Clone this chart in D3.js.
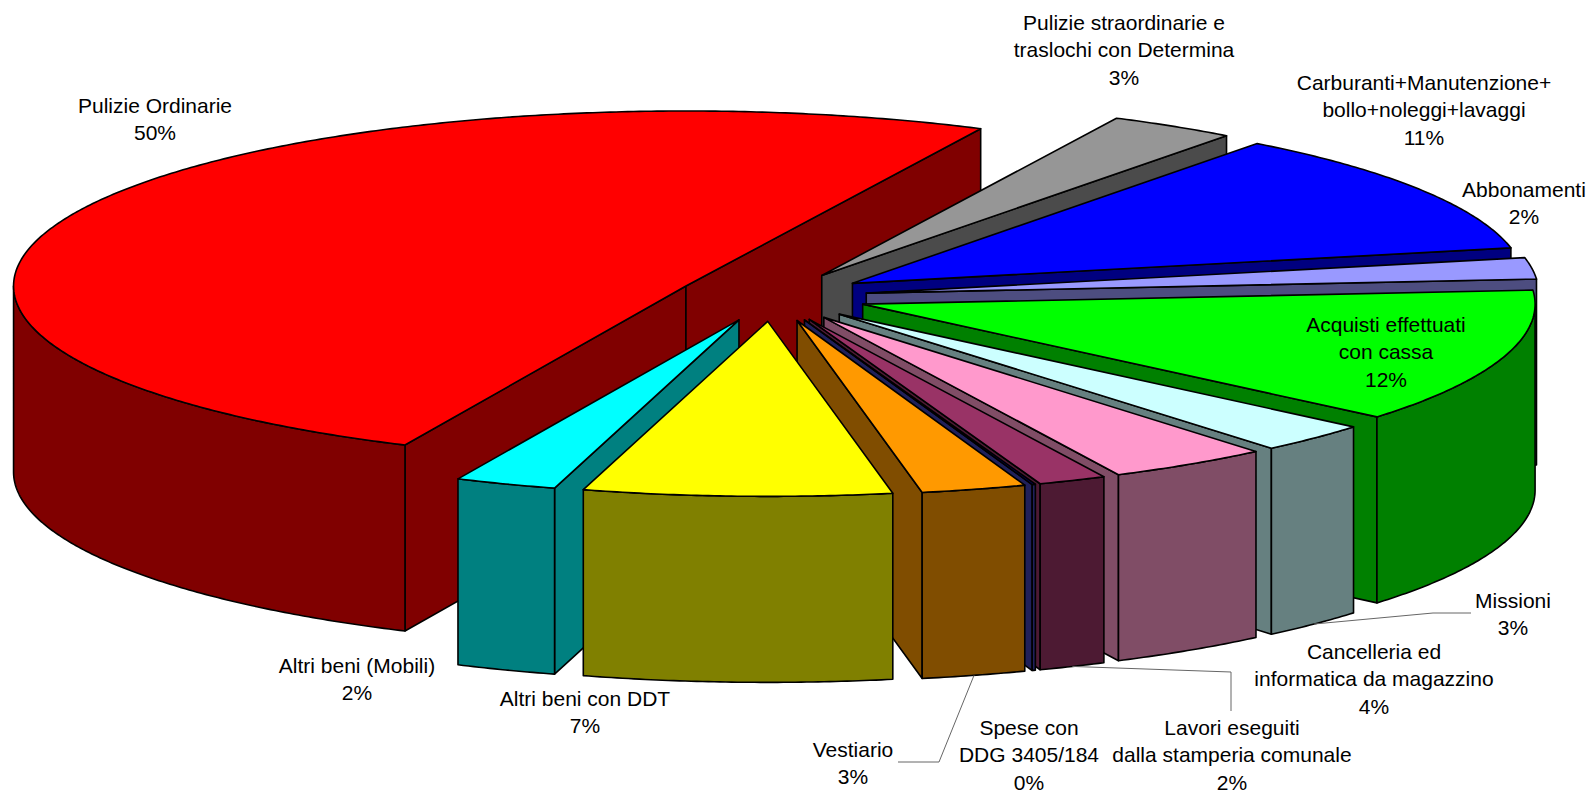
<!DOCTYPE html>
<html>
<head>
<meta charset="utf-8">
<script src="https://cdn.jsdelivr.net/npm/d3@7"></script>
<style>
  body { margin: 0; background: #fff; }
  .lbl { font-family: "Liberation Sans", Arial, sans-serif; font-size: 21px; fill: #000; }
  .face { stroke: #000; stroke-width: 1.6; stroke-linejoin: round; }
  .leader { fill: none; stroke: #666; stroke-width: 1; }
</style>
</head>
<body>
<svg width="1591" height="794"></svg>
<script>
// data, clockwise from the big red slice
var categories = [
  'Pulizie Ordinarie',
  'Pulizie straordinarie e traslochi con Determina',
  'Carburanti+Manutenzione+bollo+noleggi+lavaggi',
  'Abbonamenti',
  'Acquisti effettuati con cassa',
  'Missioni',
  'Cancelleria ed informatica da magazzino',
  'Lavori eseguiti dalla stamperia comunale',
  'Spese con DDG 3405/184',
  'Vestiario',
  'Altri beni con DDT',
  'Altri beni (Mobili)'
];
var values = [50.36, 3.06, 11.47, 1.97, 12.42, 2.75, 3.89, 1.64, 0.08, 2.52, 7.40, 2.44];
var labelLines = [
  ['Pulizie Ordinarie'],
  ['Pulizie straordinarie e', 'traslochi con Determina'],
  ['Carburanti+Manutenzione+', 'bollo+noleggi+lavaggi'],
  ['Abbonamenti'],
  ['Acquisti effettuati', 'con cassa'],
  ['Missioni'],
  ['Cancelleria ed', 'informatica da magazzino'],
  ['Lavori eseguiti', 'dalla stamperia comunale'],
  ['Spese con', 'DDG 3405/184'],
  ['Vestiario'],
  ['Altri beni con DDT'],
  ['Altri beni (Mobili)']
];

// styling / layout
var topColors  = ['#FF0000', '#969696', '#0000FF', '#9999FF', '#00FF00', '#CCFFFF',
                  '#FF99CC', '#993366', '#000080', '#FF9900', '#FFFF00', '#00FFFF'];
var sideColors = ['#800000', '#4B4B4B', '#000080', '#4D4D80', '#008000', '#668080',
                  '#804D66', '#4D1A33', '#20205A', '#804D00', '#808000', '#008080'];
var labelPos = [[155, 105], [1124, 22], [1424, 82], [1524, 189], [1386, 324], [1513, 600],
                [1374, 651], [1232, 727], [1029, 727], [853, 749], [585, 698], [357, 665]];
var leaders = [
  { i: 5, pts: [[1471, 613], [1433, 613]] },
  { i: 7, pts: [[1231, 711], [1231, 672]] },
  { i: 9, pts: [[898, 762], [939, 762]] }
];

var svg = d3.select('svg');
var cx = 772, cy = 296.6, rx = 672.4, ry = 175, depth = 186, explode = 0.1416;
var lineH = 27.7;
var rad = Math.PI / 180;
var startAngle = 204.7 * rad;

var xScale = d3.scaleLinear().domain([-1, 1]).range([cx - rx, cx + rx]);
var yScale = d3.scaleLinear().domain([-1, 1]).range([cy + ry, cy - ry]);
var zScale = d3.scaleLinear().domain([0, 1]).range([0, depth]);

var pie = d3.pie().sort(null).value(function (d) { return d; })
  .startAngle(startAngle).endAngle(startAngle + 2 * Math.PI);
var arcs = pie(values);
arcs.forEach(function (d) { d.mid = (d.startAngle + d.endAngle) / 2; });

function pt(d, a, z) {
  return [xScale(explode * Math.sin(d.mid) + Math.sin(a)),
          yScale(explode * Math.cos(d.mid) + Math.cos(a)) + zScale(z)];
}
function tip(d, z) {
  return [xScale(explode * Math.sin(d.mid)), yScale(explode * Math.cos(d.mid)) + zScale(z)];
}
function arcPts(d, a, b, z) {
  var n = Math.max(2, Math.ceil(Math.abs(b - a) / (0.5 * rad)));
  return d3.range(n + 1).map(function (k) { return pt(d, a + (b - a) * k / n, z); });
}
var line = d3.line();
function poly(p) { return line(p) + 'Z'; }

// side parts of each slice (cut faces + visible outer wall)
function sideParts(d) {
  var parts = [];
  var a0 = d.startAngle, a1 = d.endAngle;
  if (Math.sin(a0) < 0) parts.push([tip(d, 0), pt(d, a0, 0), pt(d, a0, 1), tip(d, 1)]);
  if (Math.sin(a1) > 0) parts.push([tip(d, 0), pt(d, a1, 0), pt(d, a1, 1), tip(d, 1)]);
  for (var k = 0; k < 3; k++) {
    var lo = Math.PI / 2 + 2 * Math.PI * k, hi = 1.5 * Math.PI + 2 * Math.PI * k;
    var s = Math.max(a0, lo), t = Math.min(a1, hi);
    if (s < t) parts.push(arcPts(d, s, t, 0).concat(arcPts(d, t, s, 1)));
  }
  return parts;
}
function backness(d) {
  var a0 = d.startAngle, a1 = d.endAngle;
  for (var k = 1; k < 3; k++) if (a0 < 2 * Math.PI * k && a1 > 2 * Math.PI * k) return 1;
  return Math.max(Math.cos(a0), Math.cos(a1));
}

var order = arcs.slice().sort(function (a, b) { return backness(b) - backness(a); });

var sidesG = svg.append('g');
order.forEach(function (d) {
  sidesG.selectAll(null).data(sideParts(d)).enter().append('path')
    .attr('class', 'face')
    .attr('fill', sideColors[d.index])
    .attr('d', poly);
});

svg.append('g').selectAll('path').data(arcs).enter().append('path')
  .attr('class', 'face')
  .attr('fill', function (d) { return topColors[d.index]; })
  .attr('d', function (d) { return poly([tip(d, 0)].concat(arcPts(d, d.startAngle, d.endAngle, 0))); });

// leader lines
svg.append('g').selectAll('path').data(leaders).enter().append('path')
  .attr('class', 'leader')
  .attr('d', function (l) { return line(l.pts.concat([pt(arcs[l.i], arcs[l.i].mid, 1)])); });

// labels
var total = d3.sum(values);
var labels = svg.append('g').selectAll('text').data(arcs).enter().append('text')
  .attr('class', 'lbl')
  .attr('text-anchor', 'middle')
  .attr('x', function (d) { return labelPos[d.index][0]; })
  .attr('y', function (d) { return labelPos[d.index][1] + 7.5; });
labels.each(function (d) {
  var lines = labelLines[d.index].concat([Math.round(values[d.index] / total * 100) + '%']);
  var t = d3.select(this);
  lines.forEach(function (s, k) {
    t.append('tspan')
      .attr('x', labelPos[d.index][0])
      .attr('dy', k === 0 ? 0 : lineH)
      .text(s);
  });
});
</script>
</body>
</html>
